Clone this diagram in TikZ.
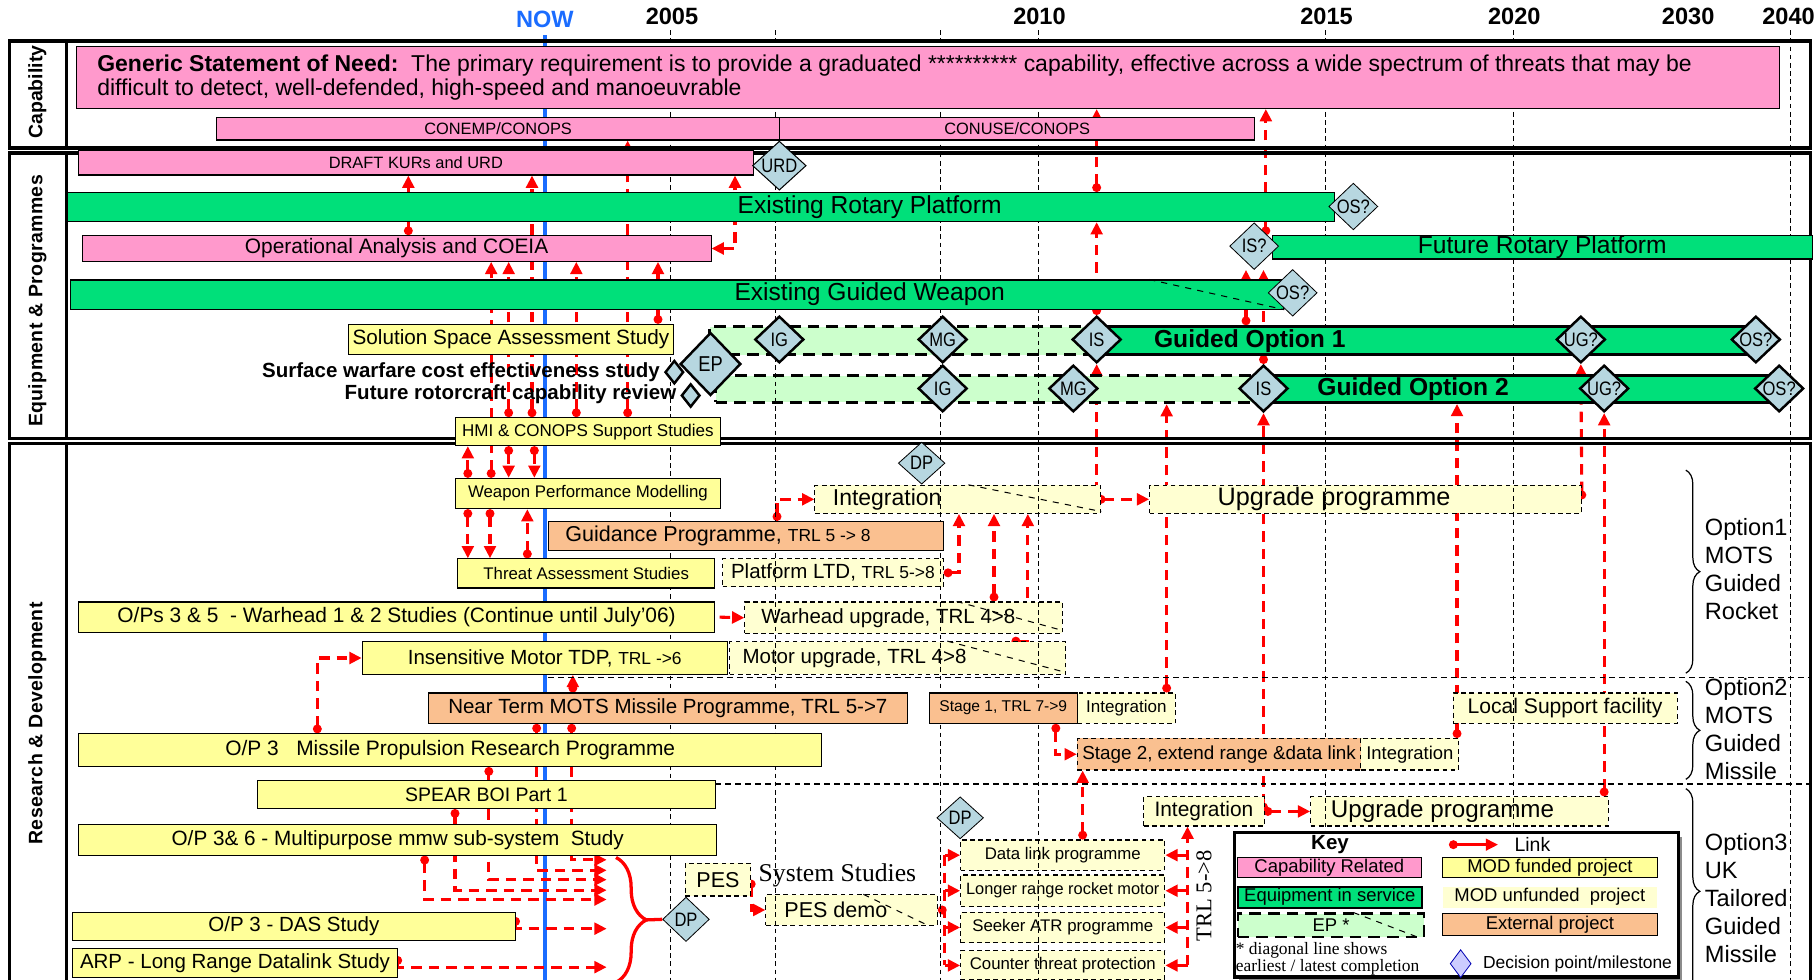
\documentclass[tikz,border=0pt]{standalone}
\usepackage{fontspec}
\setmainfont{Liberation Sans}
\newfontfamily\serifface{Liberation Serif}
\newfontfamily\condface[FakeStretch=0.85]{Liberation Sans}
\usetikzlibrary{shapes.geometric,arrows.meta,decorations.pathreplacing}

\definecolor{capink}{HTML}{FF99CC}
\definecolor{eqgreen}{HTML}{00E07A}
\definecolor{eplight}{HTML}{CCFFCC}
\definecolor{modyel}{HTML}{FFFF99}
\definecolor{unyel}{HTML}{FFFFD2}
\definecolor{extorg}{HTML}{FAC090}
\definecolor{dmblue}{HTML}{B7D7E0}
\definecolor{nowblue}{HTML}{1A6CFF}
\definecolor{lnkred}{HTML}{FF0000}

\newlength\pxu
\setlength\pxu{0.2mm}
\newcommand\ctxt[3]{\makebox[#1\pxu][l]{\makebox[#2\pxu][c]{#3}}}
\newcommand\dt[1]{\makebox[0pt]{#1}}
\newcommand\smtrl[1]{{\fontsize{8.5}{8.5}\selectfont #1}}

\pgfdeclarelayer{lnklayer}
\pgfdeclarelayer{unflayer}
\pgfdeclarelayer{gridlayer}
\pgfsetlayers{lnklayer,unflayer,gridlayer,main}

\tikzset{
  sz/.style 2 args={minimum width=#1\pxu, minimum height=#2\pxu},
  fsz/.style={font=\fontsize{#1}{#1}\selectfont},
  bx/.style={draw, inner sep=0pt, anchor=west, line width=0.5pt},
  capbox/.style={bx, fill=capink, fsz=8},
  eqbar/.style={bx, fill=eqgreen, fsz=12},
  optbar/.style={bx, fill=eqgreen, line width=1.4pt, font=\fontsize{12}{12}\selectfont\bfseries},
  epbox/.style={bx, fill=eplight, line width=1.6pt, dash pattern=on 2mm off 1.2mm},
  fundbox/.style={bx, fill=modyel, fsz=10},
  unfbox/.style={bx, fill=unyel, dash pattern=on 0.8mm off 0.6mm, fsz=10},
  extbox/.style={bx, fill=extorg, fsz=10},
  dm/.style={diamond, draw, fill=dmblue, inner sep=0pt, sz={42}{40}, font=\condface\fontsize{9.5}{9.5}\selectfont},
  dmk/.style={dm, line width=1.2pt},
  dms/.style={diamond, draw, fill=dmblue, inner sep=0pt, line width=1.2pt, sz={16}{20}},
  yrlab/.style={font=\fontsize{11.5}{11.5}\selectfont\bfseries},
  seclab/.style={rotate=90, font=\fontsize{9.5}{9.5}\selectfont\bfseries},
  optlab/.style={anchor=west, align=left, inner sep=0pt, font=\fontsize{11.5}{13.6}\selectfont},
  yrline/.style={line width=0.5pt, dash pattern=on 0.8mm off 0.6mm},
  grpsep/.style={line width=0.6pt, dash pattern=on 1mm off 0.7mm},
  frame/.style={line width=1.7pt},
  lnk/.style={draw=lnkred, line width=1.5pt, dash pattern=on 1.8mm off 1.2mm,
    arrows={Circle[length=1.5mm]-Triangle[length=2.1mm,width=2mm]}},
  lnkb/.style={lnk, arrows={Triangle[length=2.1mm,width=2mm]-Triangle[length=2.1mm,width=2mm]}},
  lnka/.style={lnk, arrows={-Triangle[length=2.1mm,width=2mm]}},
  lnkd/.style={lnk, arrows={Circle[length=1.5mm]-}},
  lnkn/.style={lnk, arrows=-},
  rbrace/.style={decorate, decoration={brace, amplitude=#1}},
}

\begin{document}
\begin{tikzpicture}[x=0.2mm, y=-0.2mm]
\useasboundingbox (0,0) rectangle (1560,840);

% time axis
\node[yrlab, text=nowblue] (now) at (467,17) {NOW};
\node[yrlab] (y05) at (576,14) {2005};
\node[yrlab] (y10) at (891,14) {2010};
\node[yrlab] (y15) at (1137,14) {2015};
\node[yrlab] (y20) at (1298,14) {2020};
\node[yrlab] (y30) at (1447,14) {2030};
\node[yrlab] (y40) at (1533,14) {2040};

% section frames
\draw[frame] (8,35) rectangle (1552,127) (57,35) -- (57,127);
\draw[frame] (8,131) rectangle (1552,376) (57,131) -- (57,376);
\draw[frame] (8,840) -- (8,380) -- (1552,380) -- (1552,840) (57,380) -- (57,840);
\node[seclab] (capl) at (32,79) {Capability};
\node[seclab, font=\fontsize{9.5}{9.5}\selectfont\bfseries\addfontfeature{LetterSpace=2}] (eqpl) at (32,258) {Equipment \& Programmes};
\node[seclab, font=\fontsize{9.5}{9.5}\selectfont\bfseries\addfontfeature{LetterSpace=2}] (rdl) at (32,620) {Research \& Development};

% capability
\node[capbox, sz={1460}{53}, align=left, inner xsep=18\pxu, font=\fontsize{11.2}{11.9}\selectfont] (gsn) at (65,66.5)
  {\makebox[1424\pxu][l]{\textbf{Generic Statement of Need:}\ \ The primary requirement is to provide a graduated ********** capability, effective across a wide spectrum of threats that may be}\\
   \makebox[1424\pxu][l]{difficult to detect, well-defended, high-speed and manoeuvrable}};
\node[capbox, sz={483}{19}] (conemp) at (185,110.5) {CONEMP/CONOPS};
\node[capbox, sz={407}{19}] (conuse) at (668,110.5) {CONUSE/CONOPS};

% equipment and programmes
\node[capbox, sz={578}{21}] (kurs) at (67,139.5) {DRAFT KURs and URD};
\node[dm, sz={46}{42}, line width=0.5pt] (urd) at (668,142) {\dt{URD}};
\node[eqbar, sz={1086}{25}] (erp) at (57,177.5) {\ctxt{1086}{1376}{Existing Rotary Platform}};
\node[dm] (osr) at (1160,177) {\dt{OS?}};
\node[capbox, sz={539}{22}, fsz=10.2] (oa) at (70,213) {Operational Analysis and COEIA};
\node[eqbar, sz={463}{20}] (frp) at (1090,212) {Future Rotary Platform};
\node[dm] (isq) at (1075,211) {\dt{IS?}};
\node[eqbar, sz={1040}{25}] (egw) at (60,252.5) {\ctxt{1040}{1370}{Existing Guided Weapon}};
\draw[dashed, line width=0.5pt] ([xshift=925\pxu]egw.north west) -- (egw.south east);
\node[dm] (osg) at (1108,251) {\dt{OS?}};
\node[fundbox, sz={279}{26}, fsz=10.1] (ssas) at (298,291) {Solution Space Assessment Study};
\begin{pgfonlayer}{unflayer}
\node[epbox, sz={403}{24}] (ep1) at (607,292) {};
\node[epbox, sz={538}{23}] (ep2) at (612,333.5) {};
\end{pgfonlayer}
\node[optbar, sz={565}{24}] (go1) at (940,292) {\ctxt{565}{260}{Guided Option 1}};
\node[optbar, sz={442}{23}] (go2) at (1083,333.5) {\ctxt{442}{254}{Guided Option 2}};
\node[dmk] (ig1) at (668,291) {\dt{IG}};
\node[dmk] (mg1) at (808,291) {\dt{MG}};
\node[dmk] (is1) at (940,291) {\dt{IS}};
\node[dmk] (ug1) at (1355,291) {\dt{UG?}};
\node[dmk] (oso1) at (1505,291) {\dt{OS?}};
\node[dmk] (ig2) at (808,333) {\dt{IG}};
\node[dmk] (mg2) at (920,333) {\dt{MG}};
\node[dmk] (is2) at (1083,333) {\dt{IS}};
\node[dmk] (ug2) at (1375,333) {\dt{UG?}};
\node[dmk] (oso2) at (1525,333) {\dt{OS?}};
\node[dmk, sz={52}{54}, font=\condface\fontsize{10.5}{10.5}\selectfont] (ep) at (609,312) {\dt{EP}};
\node[anchor=east, inner sep=0pt, font=\fontsize{10}{10}\selectfont\bfseries] (swce) at (566,319) {Surface warfare cost effectiveness study};
\node[dms] (swd) at (578,319) {};
\node[anchor=east, inner sep=0pt, font=\fontsize{10}{10}\selectfont\bfseries] (frcr) at (580,338) {Future rotorcraft capability review};
\node[dms] (frd) at (592,339) {};
\node[fundbox, sz={227}{24}, fsz=8.3] (hmi) at (390,370) {HMI \& CONOPS Support Studies};

% research and development
\node[dm, sz={40}{36}] (dpa) at (790,397) {\dt{DP}};
\node[fundbox, sz={227}{26}, fsz=8.2] (wpm) at (390,423) {Weapon Performance Modelling};
\node[extbox, sz={338}{25}, fsz=10.5] (guid) at (470,459.5) {\ctxt{338}{290}{Guidance Programme, \smtrl{TRL 5 -> 8}}};
\node[fundbox, sz={220}{25}, fsz=8.2] (tas) at (392,491.5) {Threat Assessment Studies};
\node[fundbox, sz={545}{26}, fsz=10.2] (ops) at (67,529) {O/Ps 3 \& 5~ - Warhead 1 \& 2 Studies (Continue until July'06)};
\node[fundbox, sz={313}{28}, fsz=10] (imt) at (310,564) {Insensitive Motor TDP, \smtrl{TRL ->6}};
\node[extbox, sz={410}{26}, fsz=10] (ntm) at (367,607) {Near Term MOTS Missile Programme, TRL 5->7};
\node[extbox, sz={127}{26}, fsz=7.6] (st1) at (796,607) {Stage 1, TRL 7->9};
\node[fundbox, sz={637}{28}, fsz=10.2] (mprp) at (67,643) {O/P 3~~~Missile Propulsion Research Programme};
\node[extbox, dash pattern=on 0.8mm off 0.6mm, sz={243}{27}, fsz=9.2] (st2) at (923,646.5) {Stage 2, extend range \&data link};
\node[fundbox, sz={393}{24}, fsz=9.5] (spear) at (220,681) {SPEAR BOI Part 1};
\node[dm, sz={40}{36}] (dpb) at (823,701) {\dt{DP}};
\node[fundbox, sz={547}{26}, fsz=10.1] (mmw) at (67,720) {O/P 3\& 6 - Multipurpose mmw sub-system~ Study};
\node[anchor=west, inner sep=0pt, font=\serifface\fontsize{12.5}{12.5}\selectfont] (sysst) at (650,750) {System Studies};
\node[fundbox, sz={379}{24}, fsz=10] (das) at (62,794) {O/P 3 - DAS Study};
\node[dm, sz={40}{38}] (dpc) at (588,788) {\dt{DP}};
\node[fundbox, sz={278}{25}, fsz=10] (arp) at (62,825.5) {ARP - Long Range Datalink Study};
\node[rotate=90, inner sep=0pt, font=\serifface\fontsize{11}{11}\selectfont] (trl) at (1032,768) {TRL 5->8};

\begin{pgfonlayer}{unflayer}
\node[unfbox, sz={245}{24}, fsz=11.2] (int1) at (698,428) {\ctxt{245}{124}{Integration}};
\draw[dashed, line width=0.5pt] ([xshift=132\pxu]int1.north west) -- ([yshift=2\pxu]int1.south east);
\node[unfbox, sz={370}{24}, fsz=12.3] (upg1) at (985,428) {\ctxt{370}{316}{Upgrade programme}};
\node[unfbox, sz={189}{24}] (plat) at (619,491) {Platform LTD, \smtrl{TRL 5->8}};
\node[unfbox, sz={272}{27}] (whu) at (638,529.5) {\ctxt{272}{246}{Warhead upgrade, TRL 4>8}};
\draw[dashed, line width=0.5pt] ([xshift=182\pxu]whu.north west) -- ([yshift=3\pxu]whu.south east);
\node[unfbox, sz={288}{28}] (mou) at (625,564) {\ctxt{288}{214}{Motor upgrade, TRL 4>8}};
\draw[dashed, line width=0.5pt] ([xshift=187\pxu]mou.north west) -- ([yshift=2\pxu]mou.south east);
\node[unfbox, sz={84}{26}, fsz=8.3] (int2) at (923,607) {Integration};
\node[unfbox, sz={192}{26}, fsz=10.3] (lsf) at (1245,607) {Local Support facility};
\node[unfbox, sz={84}{27}, fsz=9] (int3) at (1166,646.5) {Integration};
\node[unfbox, sz={103}{25}, fsz=10.2] (int4) at (980,695.5) {Integration};
\node[unfbox, sz={255}{25}, fsz=11.8] (upg2) at (1123,695.5) {\ctxt{255}{226}{Upgrade programme}};
\node[unfbox, sz={175}{26}, fsz=8.2] (dlp) at (823,733) {Data link programme};
\node[unfbox, sz={56}{28}, fsz=10.5] (pes) at (587,754) {PES};
\node[unfbox, sz={175}{27}, fsz=8] (lrrm) at (823,763.5) {Longer range rocket motor};
\node[unfbox, sz={147}{26}, fsz=10.5] (pesd) at (656,780) {\ctxt{147}{120}{PES demo}};
\draw[dashed, line width=0.5pt] ([xshift=84\pxu]pesd.north west) -- ([xshift=-8\pxu]pesd.south east);
\node[unfbox, sz={175}{26}, fsz=8.2] (satr) at (823,795) {Seeker ATR programme};
\node[unfbox, sz={175}{25}, fsz=8.2] (ctp) at (823,827.5) {Counter threat protection};
\end{pgfonlayer}

% grouping braces
\coordinate (bta) at (1445,403); \coordinate (bba) at (1445,577);
\coordinate (btb) at (1445,584); \coordinate (bbb) at (1445,668);
\coordinate (btc) at (1445,676); \coordinate (bbc) at (1445,852);
\draw[line width=0.6pt, rbrace=2.4mm] (bta) -- (bba);
\draw[line width=0.6pt, rbrace=2.4mm] (btb) -- (bbb);
\draw[line width=0.6pt, rbrace=2.4mm] (btc) -- (bbc);
\node[optlab] (opt1) at (1461,488) {Option1\\MOTS\\Guided\\Rocket};
\node[optlab] (opt2) at (1461,625) {Option2\\MOTS\\Guided\\Missile};
\node[optlab] (opt3) at (1461,770) {Option3\\UK\\Tailored\\Guided\\Missile};
\coordinate (brt) at (528,735); \coordinate (brb) at (528,842);
\coordinate (btip) at (554,788.5);
\draw[lnkred, line width=1.6pt, rbrace=5.2mm] (brt) -- (brb);
\draw[lnkred, line width=1.6pt] (btip) -- (dpc.west);

% key
\fill[black!45] (1062,717) rectangle (1442,842);
\node[draw, line width=1.6pt, fill=white, inner sep=0pt, sz={380}{124}, anchor=north west] (keybox) at (1057,712) {};
\node[font=\fontsize{10}{10}\selectfont\bfseries] (keyt) at (1140,724) {Key};
\coordinate (lka) at (1242,724); \coordinate (lkb) at (1284,724);
\draw[draw=lnkred, line width=1.3pt, arrows={Circle[length=1.5mm]-Triangle[length=2.1mm,width=2mm]}] (lka) -- (lkb);
\node[anchor=west, fsz=9.5] (keyl) at (1292,724) {Link};
\node[capbox, sz={158}{17}, fsz=9] (kcap) at (1060,743.5) {Capability Related};
\node[fundbox, sz={184}{17}, fsz=9] (kmod) at (1236,743.5) {MOD funded project};
\node[eqbar, line width=1pt, sz={158}{18}, fsz=9] (keq) at (1060,769) {Equipment in service};
\node[bx, draw=none, fill=unyel, sz={184}{18}, fsz=9] (kunf) at (1236,769) {MOD unfunded~ project};
\node[epbox, line width=1pt, sz={160}{20}, fsz=9] (kep) at (1060,793) {EP *};
\draw[dashed, line width=0.5pt] ([xshift=100\pxu]kep.north west) -- ([xshift=-5\pxu]kep.south east);
\node[extbox, sz={184}{19}, fsz=9] (kext) at (1236,792.5) {External project};
\node[anchor=west, align=left, inner sep=0pt, font=\serifface\fontsize{8.5}{8}\selectfont] (kfoot) at (1059,822) {* diagonal line shows\\earliest / latest completion};
\node[diamond, draw=blue!70!black, fill=blue!20, inner sep=0pt, sz={18}{24}] (kdm) at (1252,826) {};
\node[anchor=west, fsz=8.5] (kdmt) at (1265,826) {Decision point/milestone};

% year lines and option separators
\begin{pgfonlayer}{gridlayer}
\foreach \gx in {575,665,806,890,1136,1297,1535}
  \draw[yrline] (\gx,26) -- (\gx,840);
\draw[grpsep] (470,581) -- (1553,581);
\draw[grpsep] (613,672) -- (1553,672);
\end{pgfonlayer}

% links
\begin{pgfonlayer}{lnklayer}
\draw[nowblue, line width=1.8pt] (now.south) -- ++(0,820);
\draw[lnk] ([xshift=280\pxu]oa.north west) coordinate (a1) -- (a1 |- kurs.south);
\draw[lnk] ([xshift=66\pxu]hmi.north west) coordinate (a2) -- (a2 |- kurs.south);
\draw[lnk] ([xshift=148\pxu]hmi.north west) coordinate (a3) -- (a3 |- conemp.south);
\draw[lnk] ([xshift=31\pxu]wpm.north west) coordinate (a4) -- (a4 |- oa.south);
\draw[lnk] ([xshift=46\pxu]hmi.north west) coordinate (a5) -- (a5 |- oa.south);
\draw[lnk] ([xshift=104\pxu]hmi.north west) coordinate (a6) -- (a6 |- oa.south);
\draw[lnk] ([xshift=266\pxu]ssas.north west) coordinate (a7) -- (a7 |- oa.south);
\draw[lnkb] (oa.east) -| ([xshift=563\pxu]kurs.south west);
\draw[lnk] (is1.north) -- (is1 |- erp.south);
\draw[lnk] (is1 |- erp.north) -- (is1 |- gsn.south);
\draw[lnk] (is1 |- int1.east) -- (is1.south);
\draw[lnk] (is1 |- int1.east) -- (upg1.west);
\draw[lnk] ([xshift=-5\pxu]frp.north west) coordinate (a13) -- (a13 |- gsn.south);
\draw[lnk] ([xshift=128\pxu]go1.north west) coordinate (a14) -- (a14 |- isq.south);
\draw[lnk] (is2.north) -- (is2 |- isq.south);
\draw[lnk] (is2 |- upg2.west) -- (is2.south);
\draw[lnk] (is2 |- upg2.west) -- (upg2.west);
\draw[lnk] ([xshift=77\pxu]int2.north west) coordinate (a17) -- (a17 |- ep2.south);
\draw[lnk] ([xshift=-2\pxu]int3.north east) coordinate (a18) -- (a18 |- go2.south);
\draw[lnk] (upg1.east) -- (ug1.south);
\draw[lnk] (ug2 |- upg2.north) -- (ug2.south);
\draw[lnk] ([xshift=11\pxu]wpm.north west) coordinate (b1) -- (b1 |- hmi.south);
\draw[lnk] ([xshift=46\pxu]hmi.south west) coordinate (b2) -- (b2 |- wpm.north);
\draw[lnk] ([xshift=68\pxu]hmi.south west) coordinate (b3) -- (b3 |- wpm.north);
\draw[lnk] ([xshift=11\pxu]wpm.south west) coordinate (b4) -- (b4 |- tas.north);
\draw[lnk] ([xshift=30\pxu]wpm.south west) coordinate (b5) -- (b5 |- tas.north);
\draw[lnk] ([xshift=60\pxu]tas.north west) coordinate (b6) -- (b6 |- wpm.south);
\draw[lnk] ([xshift=196\pxu]guid.north west) |- (int1.west);
\draw[lnk] (plat.east) -| ([xshift=124\pxu]int1.south west);
\draw[lnk] ([xshift=214\pxu]whu.north west) coordinate (b9) -- (b9 |- int1.south);
\draw[lnk] ([xshift=242\pxu]mou.north west) -| ([xshift=183\pxu]int1.south west);
\draw[lnka] ([xshift=4\pxu]ops.east) -- (whu.west);
\draw[lnk] ([xshift=205\pxu]mprp.north west) |- (imt.west);
\draw[lnk] ([xshift=124\pxu]ntm.north west) coordinate (b13) -- (b13 |- imt.south);
\draw[lnk] ([xshift=109\pxu]st1.south west) |- (st2.west);
\draw[lnk] ([xshift=105\pxu]dlp.north west) coordinate (b15) -- (b15 |- st2.south);
\coordinate (r1) at (520,737); \coordinate (r2) at (520,746);
\coordinate (r3) at (520,754); \coordinate (r4) at (520,763);
\coordinate (r5) at (520,771); \coordinate (r6) at (520,796);
\coordinate (r7) at (520,829);
\draw[lnk] ([xshift=123\pxu]ntm.south west) |- (r1);
\draw[lnk] ([xshift=93\pxu]ntm.south west) |- (r2);
\draw[lnk] ([xshift=352\pxu]mprp.south west) |- (r3);
\draw[lnk] ([xshift=170\pxu]spear.south west) |- (r4);
\draw[lnk] ([xshift=297\pxu]mmw.south west) |- (r5);
\draw[lnk] ([yshift=8\pxu]das.east) |- (r6);
\draw[lnk] ([yshift=6\pxu]arp.east) |- (r7);
\draw[lnk] (pes.east) |- (pesd.west);
\coordinate (pbus) at ([xshift=6\pxu]pesd.east);
\draw[lnkd] (pesd.east) -- (pbus);
\draw[lnkn] (pbus |- dlp.west) -- (pbus |- ctp.west);
\foreach \nd in {dlp,lrrm,satr,ctp}
  \draw[lnka] (pbus |- \nd.west) -- (\nd.west);
\coordinate (tbus) at ([xshift=19\pxu]dlp.east);
\draw[lnka] (tbus |- ctp.east) -- (tbus |- int4.south);
\foreach \nd in {dlp,lrrm,satr,ctp}
  \draw[lnka] (tbus |- \nd.east) -- (\nd.east);
\end{pgfonlayer}
\end{tikzpicture}
\end{document}
